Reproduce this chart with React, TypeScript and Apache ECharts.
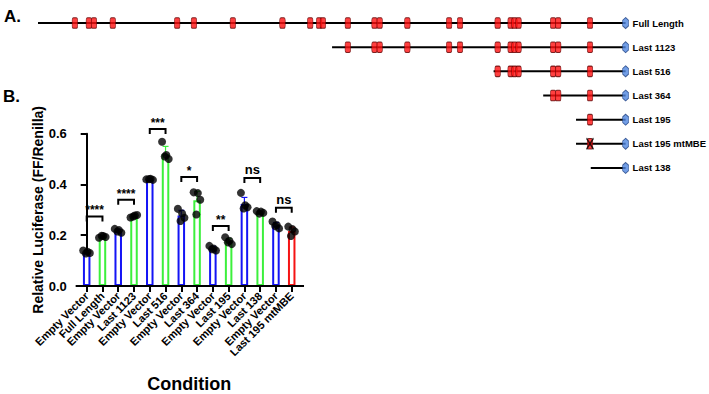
import React, { useEffect, useRef } from "react";
import * as echarts from "echarts";

const FONT = '"Liberation Sans", Arial, Helvetica, sans-serif';

// ---- Panel B data ----
const categories = [
  "Empty Vector", "Full Length",
  "Empty Vector", "Last 1123",
  "Empty Vector", "Last 516",
  "Empty Vector", "Last 364",
  "Empty Vector", "Last 195",
  "Empty Vector", "Last 138",
  "Empty Vector", "Last 195 mtMBE",
];
const means = [0.133, 0.195, 0.217, 0.276, 0.42, 0.52, 0.278, 0.338, 0.148, 0.177, 0.323, 0.29, 0.239, 0.217];
const sds = [0.006, 0.004, 0.007, 0.005, 0.003, 0.03, 0.02, 0.035, 0.008, 0.01, 0.026, 0.004, 0.011, 0.015];
const replicates = [
  [0.14, 0.135, 0.13, 0.128],
  [0.19, 0.197, 0.193, 0.198],
  [0.225, 0.22, 0.21, 0.215],
  [0.27, 0.278, 0.28, 0.274],
  [0.42, 0.422, 0.418, 0.421],
  [0.568, 0.516, 0.5, 0.51],
  [0.304, 0.286, 0.269, 0.256],
  [0.369, 0.366, 0.34, 0.282],
  [0.158, 0.148, 0.14, 0.145],
  [0.192, 0.178, 0.165, 0.172],
  [0.367, 0.318, 0.31, 0.305],
  [0.295, 0.293, 0.288, 0.285],
  [0.254, 0.24, 0.227, 0.236],
  [0.234, 0.224, 0.215, 0.197],
];
const sigPairs = [[0, 1], [2, 3], [4, 5], [6, 7], [8, 9], [10, 11], [12, 13]];
const sigLabels = ["****", "****", "***", "*", "**", "ns", "ns"];
const sigHeights = [0.274, 0.34, 0.619, 0.429, 0.236, 0.425, 0.308];
const yTickStep = 0.2;
const yMax = 0.6;

// ---- Panel A data ----
const constructs = ["Full Length", "Last 1123", "Last 516", "Last 364", "Last 195", "Last 195 mtMBE", "Last 138"];
const constructStarts = [2310, 1154, 519, 324, 195, 195, 137];
const elementPositions = [2165, 2110, 2090, 2016, 1763, 1697, 1544, 1349, 1240, 1205, 1190, 1092, 987, 967, 858, 694, 651, 503, 452, 437, 421, 285, 265, 140];
const mutatedConstruct = "Last 195 mtMBE";
const mutatedPosition = 140;

const BLUE = "#1414f5";
const GREEN = "#3cf03c";
const RED = "#f51414";

function colorFor(i: number) {
  const c = categories[i];
  if (c === "Empty Vector") return BLUE;
  if (c.indexOf("mtMBE") >= 0) return RED;
  return GREEN;
}

const jitter = [-0.22, 0.05, 0.2, -0.05];

export default function App() {
  const ref = useRef<HTMLDivElement>(null);
  useEffect(() => {
    if (!ref.current) return;
    const chart = echarts.init(ref.current, null, { renderer: "svg" });

    const scatterData: number[][] = [];
    replicates.forEach((arr, i) => arr.forEach((v, j) => scatterData.push([i + jitter[j % jitter.length], v])));

    const boxData: number[][] = [];
    constructs.forEach((c, r) => {
      elementPositions.forEach((p) => {
        if (p < constructStarts[r]) boxData.push([p, r]);
      });
    });
    const mutRow = constructs.indexOf(mutatedConstruct);

    const option: any = {
      animation: false,
      backgroundColor: "#ffffff",
      textStyle: { fontFamily: FONT },
      graphic: [
        { type: "text", left: 4, top: 8, style: { text: "A.", font: `bold 17px ${FONT}`, fill: "#000" } },
        { type: "text", left: 3, top: 88, style: { text: "B.", font: `bold 17px ${FONT}`, fill: "#000" } },
      ],
      grid: [
        { left: 78.8, width: 220.8, top: 133.7, height: 153.6 },
        { left: 38, right: 78, top: 11, height: 169 },
      ],
      xAxis: [
        {
          gridIndex: 0,
          type: "category",
          data: categories,
          axisLine: { show: false },
          axisTick: { show: true, alignWithLabel: true, length: 6, lineStyle: { color: "#000", width: 2 } },
          axisLabel: {
            interval: 0,
            rotate: 45,
            margin: 8,
            color: "#000",
            fontWeight: "bold",
            fontSize: 11,
            fontFamily: FONT,
          },
          name: "Condition",
          nameLocation: "middle",
          nameGap: 89,
          nameTextStyle: { color: "#000", fontWeight: "bold", fontSize: 18, fontFamily: FONT },
        },
        { gridIndex: 0, type: "value", min: -0.5, max: 13.5, show: false },
        { gridIndex: 1, type: "value", inverse: true, min: 0, max: 2310, show: false },
      ],
      yAxis: [
        {
          gridIndex: 0,
          type: "value",
          min: 0,
          max: yMax,
          interval: yTickStep,
          offset: 2,
          splitLine: { show: false },
          axisLine: { show: true, lineStyle: { color: "#000", width: 2 } },
          axisTick: { show: true, length: 6, lineStyle: { color: "#000", width: 2 } },
          axisLabel: {
            margin: 10,
            color: "#000",
            fontWeight: "bold",
            fontSize: 13,
            fontFamily: FONT,
            formatter: (v: number) => v.toFixed(1),
          },
          name: "Relative Luciferase (FF/Renilla)",
          nameLocation: "middle",
          nameGap: 30,
          nameTextStyle: { color: "#000", fontWeight: "bold", fontSize: 14, fontFamily: FONT },
        },
        {
          gridIndex: 1,
          type: "category",
          inverse: true,
          position: "right",
          data: constructs,
          axisLine: { show: false },
          axisTick: { show: false },
          splitLine: { show: false },
          axisLabel: { margin: 7, color: "#000", fontWeight: "bold", fontSize: 9.5, fontFamily: FONT },
        },
      ],
      series: [
        {
          type: "custom",
          xAxisIndex: 1,
          yAxisIndex: 0,
          clip: false,
          silent: true,
          data: [[-0.7, 13.78]],
          renderItem: (params: any, api: any) => {
            const a = api.coord([api.value(0), 0]);
            const b = api.coord([api.value(1), 0]);
            return { type: "line", shape: { x1: a[0], y1: a[1], x2: b[0], y2: b[1] }, style: { stroke: "#000", lineWidth: 2 } };
          },
          z: 5,
        },
        {
          type: "bar",
          xAxisIndex: 0,
          yAxisIndex: 0,
          barWidth: 7.5,
          silent: true,
          data: means.map((v, i) => ({ value: v, itemStyle: { color: "#fff", borderColor: colorFor(i), borderWidth: 2 } })),
          z: 2,
        },
        {
          type: "custom",
          xAxisIndex: 0,
          yAxisIndex: 0,
          silent: true,
          clip: false,
          data: means.map((m, i) => [i, m, m + sds[i]]),
          renderItem: (params: any, api: any) => {
            const i = api.value(0);
            const p0 = api.coord([i, api.value(1)]);
            const p1 = api.coord([i, api.value(2)]);
            const col = colorFor(i);
            return {
              type: "group",
              children: [
                { type: "line", shape: { x1: p0[0], y1: p0[1], x2: p1[0], y2: p1[1] }, style: { stroke: col, lineWidth: 1.2 } },
                { type: "line", shape: { x1: p1[0] - 3, y1: p1[1], x2: p1[0] + 3, y2: p1[1] }, style: { stroke: col, lineWidth: 1.2 } },
              ],
            };
          },
          z: 3,
        },
        {
          type: "scatter",
          xAxisIndex: 1,
          yAxisIndex: 0,
          silent: true,
          symbol: "circle",
          symbolSize: 8,
          itemStyle: { color: "#000" },
          data: scatterData,
          z: 4,
        },
        {
          type: "custom",
          xAxisIndex: 0,
          yAxisIndex: 0,
          silent: true,
          clip: false,
          data: sigPairs.map((p, k) => [p[0], p[1], sigHeights[k], k]),
          renderItem: (params: any, api: any) => {
            const a = api.coord([api.value(0), api.value(2)]);
            const b = api.coord([api.value(1), api.value(2)]);
            const label = sigLabels[params.dataIndex];
            const isNs = label === "ns";
            return {
              type: "group",
              children: [
                {
                  type: "polyline",
                  shape: { points: [[a[0], a[1] + 5], [a[0], a[1]], [b[0], b[1]], [b[0], b[1] + 5]] },
                  style: { stroke: "#000", lineWidth: 2, fill: "none" },
                },
                {
                  type: "text",
                  x: (a[0] + b[0]) / 2,
                  y: a[1] - (isNs ? 2 : 0),
                  style: {
                    text: label,
                    font: `bold ${isNs ? 13 : 12}px ${FONT}`,
                    fill: "#000",
                    align: "center",
                    textAlign: "center",
                    verticalAlign: "bottom",
                    textVerticalAlign: "bottom",
                  },
                },
              ],
            };
          },
          z: 6,
        },
        // ---- Panel A ----
        {
          type: "custom",
          xAxisIndex: 2,
          yAxisIndex: 1,
          silent: true,
          clip: false,
          data: constructStarts.map((s, r) => [s, r]),
          renderItem: (params: any, api: any) => {
            const r = api.value(1);
            const a = api.coord([api.value(0), r]);
            const b = api.coord([0, r]);
            return { type: "line", shape: { x1: a[0], y1: a[1], x2: b[0], y2: b[1] }, style: { stroke: "#000", lineWidth: 2 } };
          },
          z: 2,
        },
        {
          type: "scatter",
          xAxisIndex: 2,
          yAxisIndex: 1,
          silent: true,
          symbol: "roundRect",
          symbolSize: [5.5, 10.5],
          itemStyle: { color: "#ff1010", borderColor: "#600000", borderWidth: 0.8 },
          data: boxData,
          z: 3,
        },
        {
          type: "scatter",
          xAxisIndex: 2,
          yAxisIndex: 1,
          silent: true,
          symbol: "path://M0,0L10,12M10,0L0,12",
          symbolSize: [7, 11],
          itemStyle: { color: "transparent", borderColor: "#000", borderWidth: 1.5 },
          data: [[mutatedPosition, mutRow]],
          z: 4,
        },
        {
          type: "scatter",
          xAxisIndex: 2,
          yAxisIndex: 1,
          silent: true,
          symbol: "path://M5,0L10,3L10,9L5,12L0,9L0,3Z",
          symbolSize: [6, 11],
          itemStyle: { color: "#4f86e0", borderColor: "#1d3f80", borderWidth: 0.8 },
          data: constructs.map((c, r) => [0, r]),
          z: 4,
        },
      ],
    };
    chart.setOption(option);
    return () => chart.dispose();
  }, []);

  return (
    <div
      ref={ref}
      style={{ position: "absolute", left: 0, top: 0, width: 709, height: 394, background: "#fff" }}
    />
  );
}
